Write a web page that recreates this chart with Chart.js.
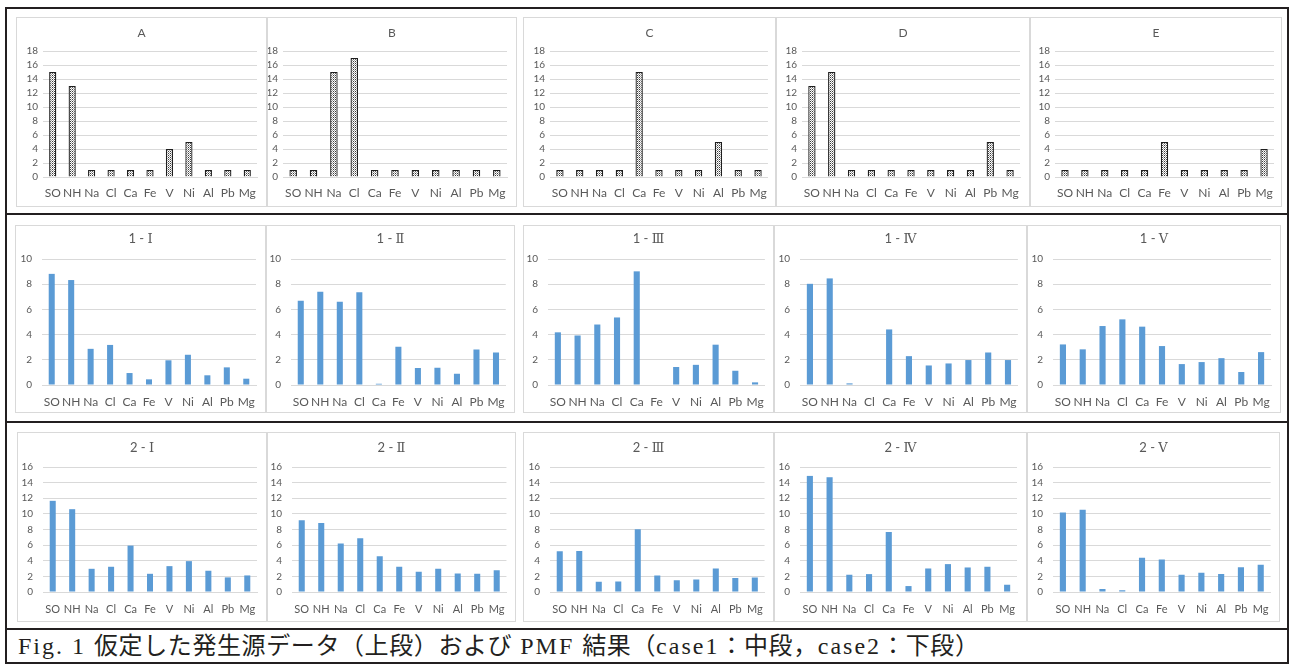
<!DOCTYPE html>
<html><head><meta charset="utf-8">
<script src="https://cdn.jsdelivr.net/npm/chart.js@4.4.1/dist/chart.umd.min.js"></script>
<style>
html,body{margin:0;padding:0;background:#fff;}
body{width:1292px;height:664px;position:relative;overflow:hidden;font-family:Lato,sans-serif;}
canvas{position:absolute;outline:1px solid #d9d9d9;outline-offset:-1px;}
.ln{position:absolute;background:#231f20;}
#cap{position:absolute;left:18px;top:632px;font-family:"Liberation Serif","Noto Sans CJK JP",serif;font-size:24px;line-height:28px;letter-spacing:0.6px;color:#231f20;white-space:nowrap;}
#cap .l{letter-spacing:2px;}
</style></head><body>
<div class="ln" style="left:5px;top:7px;width:1284px;height:2px"></div>
<div class="ln" style="left:5px;top:7px;width:2px;height:656px"></div>
<div class="ln" style="left:1287px;top:7px;width:2px;height:656px"></div>
<div class="ln" style="left:5px;top:213px;width:1284px;height:2px"></div>
<div class="ln" style="left:5px;top:421px;width:1284px;height:2px"></div>
<div class="ln" style="left:5px;top:628px;width:1284px;height:2px"></div>
<div class="ln" style="left:5px;top:662px;width:1284px;height:2px"></div>
<div id="cap"><span class="l">Fig. 1 </span>仮定した発生源データ（上段）および<span class="l"> PMF </span>結果（<span class="l">case1</span>：中段，<span class="l">case2</span>：下段）</div>
<script>
// ---- data ----
const categories = ['SO','NH','Na','Cl','Ca','Fe','V','Ni','Al','Pb','Mg'];

const titlesTop = ['A','B','C','D','E'];
const srcA = [15,13,1,1,1,1,4,5,1,1,1];
const srcB = [1,1,15,17,1,1,1,1,1,1,1];
const srcC = [1,1,1,1,15,1,1,1,5,1,1];
const srcD = [13,15,1,1,1,1,1,1,1,5,1];
const srcE = [1,1,1,1,1,5,1,1,1,1,4];

const titlesCase1 = ['1 - Ⅰ','1 - Ⅱ','1 - Ⅲ','1 - Ⅳ','1 - Ⅴ'];
const case1_I   = [8.82,8.33,2.87,3.18,0.95,0.45,1.96,2.4,0.77,1.4,0.5];
const case1_II  = [6.68,7.4,6.6,7.37,0.1,3.03,1.35,1.37,0.9,2.82,2.58];
const case1_III = [4.18,3.93,4.8,5.36,9.02,0,1.43,1.6,3.2,1.13,0.21];
const case1_IV  = [8.03,8.46,0.13,0,4.41,2.29,1.55,1.71,1.98,2.58,1.98];
const case1_V   = [3.22,2.83,4.68,5.21,4.63,3.09,1.66,1.82,2.13,1.03,2.61];

const titlesCase2 = ['2 - Ⅰ','2 - Ⅱ','2 - Ⅲ','2 - Ⅳ','2 - Ⅴ'];
const case2_I   = [11.67,10.6,2.97,3.23,5.94,2.33,3.31,3.95,2.72,1.87,2.12];
const case2_II  = [9.2,8.83,6.2,6.88,4.58,3.23,2.59,2.97,2.38,2.33,2.8];
const case2_III = [5.22,5.26,1.32,1.36,8.02,2.12,1.49,1.61,3.01,1.78,1.87];
const case2_IV  = [14.86,14.69,2.21,2.29,7.68,0.76,3.01,3.57,3.14,3.23,0.93];
const case2_V   = [10.19,10.53,0.38,0.21,4.37,4.16,2.21,2.46,2.29,3.18,3.48];

const yMaxTop = 18, yMaxCase1 = 10, yMaxCase2 = 16, yStep = 2;

// ---- layout (positions only) ----
const rowTop   = {t:17, b:207, pt:51, pb:177, ty:33};
const rowMid   = {t:225, b:413, pt:259, pb:385, ty:239};
const rowBot   = {t:432, b:622, pt:467, pb:592, ty:448};
const colsTop = [[16,267,43,257],[267,517,283,507],[523,776,550,768],[776,1030,802,1020],[1030,1282,1055,1274]];
const colsMid = [[15,266,42,256],[266,515,291,506],[523,774,548,766],[774,1027,800,1018],[1027,1281,1053,1271]];
const colsBot = [[17,267,43,257],[267,516,292,507],[523,774,550,767],[774,1027,800,1017],[1027,1280,1053,1271]];

function makePattern(){
  const pc = document.createElement('canvas'); pc.width = 2; pc.height = 2;
  const x = pc.getContext('2d');
  x.fillStyle = '#ffffff'; x.fillRect(0,0,2,2);
  x.fillStyle = '#3c3c3c'; x.fillRect(0,0,1,1);
  x.fillStyle = '#a0a0a0'; x.fillRect(1,1,1,1);
  return x.createPattern(pc,'repeat');
}
const pattern = makePattern();

const titlePlugin = {
  id:'ptitle',
  afterDraw(chart){
    const o = chart.options.plugins.ptitle;
    const ctx = chart.ctx;
    ctx.save();
    ctx.fillStyle = '#595959';
    ctx.font = o.font;
    ctx.textAlign = 'center';
    ctx.textBaseline = 'middle';
    ctx.fillText(o.text, chart.width/2, o.y);
    ctx.restore();
  }
};

function makeChart(col, row, title, values, st){
  const [l,r,pl,pr] = col;
  const w = r - l, h = row.b - row.t;
  const c = document.createElement('canvas');
  c.width = w; c.height = h;
  c.style.left = l+'px'; c.style.top = row.t+'px';
  c.style.width = w+'px'; c.style.height = h+'px';
  document.body.appendChild(c);
  new Chart(c, {
    type:'bar',
    data:{labels:categories, datasets:[{data:values, backgroundColor:st.bg, borderColor:st.bc, borderWidth:st.bw, barPercentage:st.bp, categoryPercentage:1}]},
    options:{
      responsive:false, animation:false, devicePixelRatio:1,
      layout:{padding:{left:0, right:r-pr, top:row.pt-row.t, bottom:0}},
      plugins:{legend:{display:false}, tooltip:{enabled:false}, title:{display:false},
        ptitle:{text:title, y:row.ty-row.t, font:st.tf}},
      scales:{
        x:{grid:{display:false, drawTicks:false}, border:{display:true, color:'#d9d9d9', width:1},
           ticks:{color:'#595959', font:{family:'Lato', size:st.xfs}, padding:st.xpad, maxRotation:0, autoSkip:false},
           afterFit(s){ s.height = row.b - row.pb; }},
        y:{min:0, max:st.max, ticks:{stepSize:yStep, autoSkip:false, color:'#595959', font:{family:'Lato', size:10}, padding:st.ypad},
           grid:{color:'#d9d9d9', drawTicks:false}, border:{display:false},
           afterFit(s){ s.width = pl - l; }}
      }
    },
    plugins:[titlePlugin]
  });
}

const styleTop = {bg:pattern, bc:'#1e1e1e', bw:1.3, bp:0.37, max:yMaxTop, xfs:12, xpad:9, ypad:5, tf:'12px Lato, "DejaVu Serif", "Noto Sans CJK JP"'};
const styleMid = {bg:'#5b9bd5', bc:'#5b9bd5', bw:0, bp:0.31, max:yMaxCase1, xfs:12, xpad:10, ypad:10, tf:'13px Lato, "DejaVu Serif", "Noto Sans CJK JP"'};
const styleBot = {bg:'#5b9bd5', bc:'#5b9bd5', bw:0, bp:0.31, max:yMaxCase2, xfs:11, xpad:11, ypad:10, tf:'13px Lato, "DejaVu Serif", "Noto Sans CJK JP"'};

const topData = [srcA, srcB, srcC, srcD, srcE];
const midData = [case1_I, case1_II, case1_III, case1_IV, case1_V];
const botData = [case2_I, case2_II, case2_III, case2_IV, case2_V];

for (let i = 0; i < 5; i++){
  makeChart(colsTop[i], rowTop, titlesTop[i], topData[i], styleTop);
  makeChart(colsMid[i], rowMid, titlesCase1[i], midData[i], styleMid);
  makeChart(colsBot[i], rowBot, titlesCase2[i], botData[i], styleBot);
}
</script>
</body></html>
